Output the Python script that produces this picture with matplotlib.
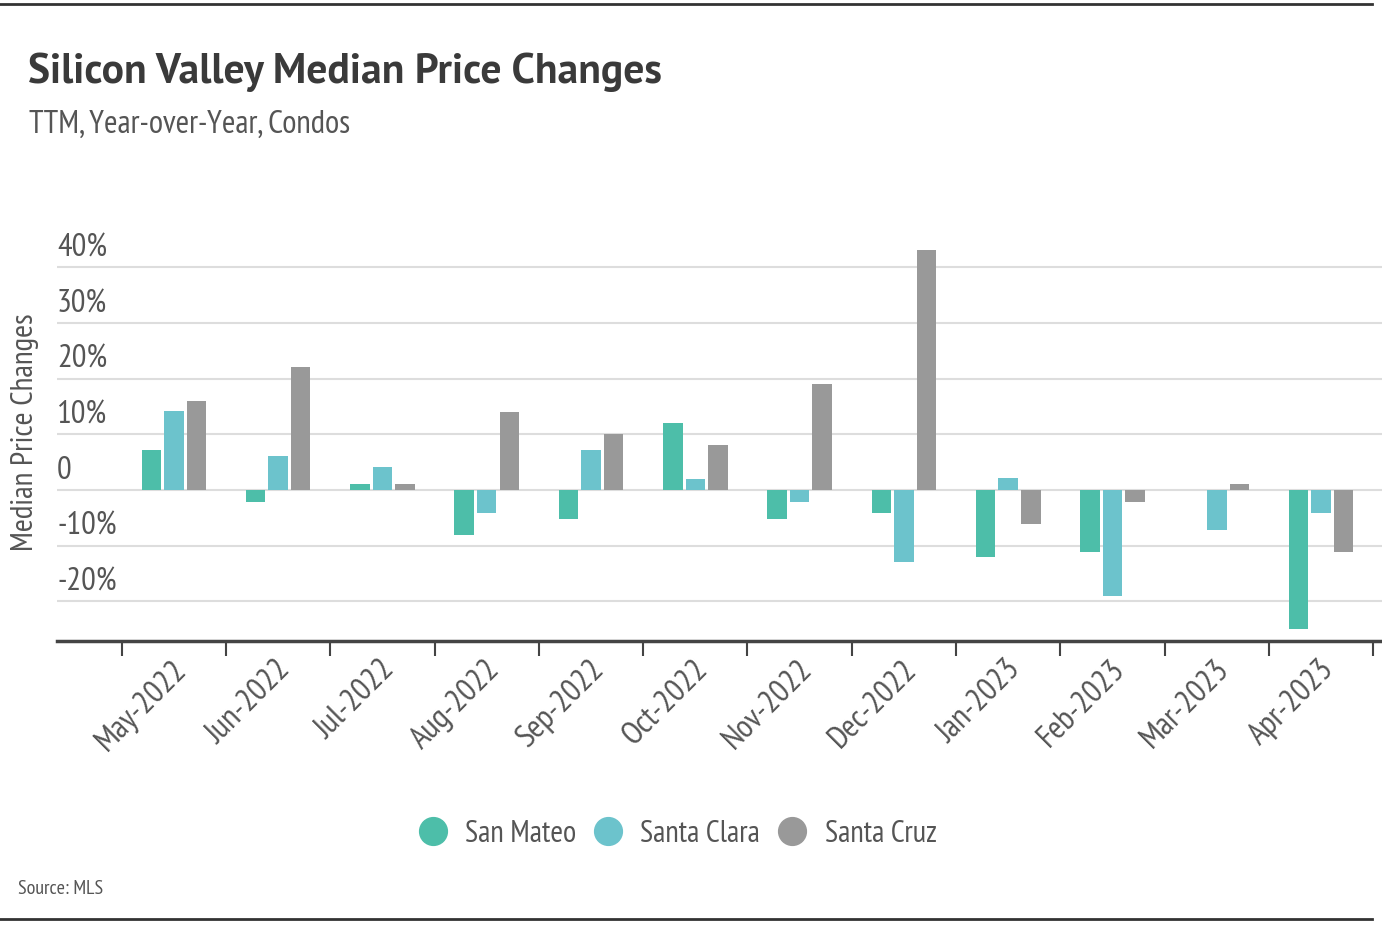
import matplotlib
matplotlib.use("Agg")
import matplotlib.pyplot as plt
from matplotlib.lines import Line2D
import numpy as np

# Data (TTM, YoY, condos)
months = ["May-2022", "Jun-2022", "Jul-2022", "Aug-2022", "Sep-2022", "Oct-2022",
          "Nov-2022", "Dec-2022", "Jan-2023", "Feb-2023", "Mar-2023", "Apr-2023"]
san_mateo = [7.1, -2.1, 1.0, -8.1, -5.2, 12.0, -5.2, -4.1, -12.1, -11.1, 0.0, -25.0]
santa_clara = [14.1, 6.1, 4.1, -4.2, 7.1, 2.0, -2.1, -13.0, 2.1, -19.0, -7.1, -4.1]
santa_cruz = [16.0, 22.0, 1.0, 14.0, 10.1, 8.0, 19.0, 43.0, -6.1, -2.1, 1.1, -11.1]
series_names = ["San Mateo", "Santa Clara", "Santa Cruz"]
colors = ["#4dbea9", "#6cc3cc", "#999999"]
ytick_vals = [40, 30, 20, 10, 0, -10, -20]
ytick_labels = ["40%", "30%", "20%", "10%", "0", "-10%", "-20%"]

plt.rcParams["font.family"] = ["PT Sans Narrow", "Liberation Sans", "DejaVu Sans"]
text_color = "#555555"

fig = plt.figure(figsize=(13.82, 9.28), dpi=100, facecolor="white")
ax = fig.add_axes([0.04125, 0.3082, 0.9585, 0.4328])

x = np.arange(len(months))
width = 0.187
step = 0.216
for i, (vals, c) in enumerate(zip([san_mateo, santa_clara, santa_cruz], colors)):
    ax.bar(x + (i - 1) * step, vals, width=width, color=c, zorder=3)

ax.set_xlim(-1.12, 11.58)
ax.set_ylim(-27.1, 45)

# gridlines with labels sitting above them
for v, lab in zip(ytick_vals, ytick_labels):
    ax.axhline(v, color="#dddddd", lw=1.5, zorder=1)
    ax.annotate(lab, xy=(0, v), xycoords=("axes fraction", "data"),
                xytext=(0, 8.5), textcoords="offset points",
                ha="left", va="baseline", fontsize=23.5, color=text_color)
ax.set_yticks([])

for s in ["top", "right", "left"]:
    ax.spines[s].set_visible(False)
ax.spines["bottom"].set_color("#444444")
ax.spines["bottom"].set_linewidth(2.5)

# ticks at category boundaries, labels at category centres
ax.set_xticks(np.arange(len(months) + 1) - 0.5)
ax.set_xticklabels([])
ax.tick_params(axis="x", which="major", length=11, width=1.5, color="#444444")
ax.set_xticks(x - 0.02, minor=True)
ax.set_xticklabels(months, minor=True, rotation=45, ha="right", va="top",
                   rotation_mode="anchor", fontsize=23.5, color=text_color)
ax.tick_params(axis="x", which="minor", length=0, pad=9)

fig.text(0.018, 0.534, "Median Price Changes", rotation=90, ha="center", va="center",
         fontsize=22.5, color=text_color)

# title block
fig.text(0.02, 0.9105, "Silicon Valley Median Price Changes", fontsize=30,
         fontweight="bold", color="#3a3a3a", ha="left", va="baseline",
         family=["PT Sans", "PT Sans Narrow", "DejaVu Sans"])
fig.text(0.021, 0.857, "TTM, Year-over-Year, Condos", fontsize=23.5,
         color=text_color, ha="left", va="baseline")

# legend
handles = [Line2D([], [], marker="o", linestyle="none", markersize=20,
                  markerfacecolor=c, markeredgecolor=c) for c in colors]
fig.legend(handles, series_names, loc="center", bbox_to_anchor=(0.49, 0.101),
           ncol=3, frameon=False, fontsize=22, handlelength=1.0,
           handletextpad=0.55, columnspacing=0.55, labelcolor=text_color)

fig.text(0.013, 0.037, "Source: MLS", fontsize=14.5, color=text_color, ha="left",
         va="baseline")

# rules at top and bottom
fig.add_artist(Line2D([0, 0.993], [0.995, 0.995], color="#333333", lw=2))
fig.add_artist(Line2D([0, 0.993], [0.009, 0.009], color="#333333", lw=2))

fig.savefig("out.png", dpi=100, facecolor="white")
